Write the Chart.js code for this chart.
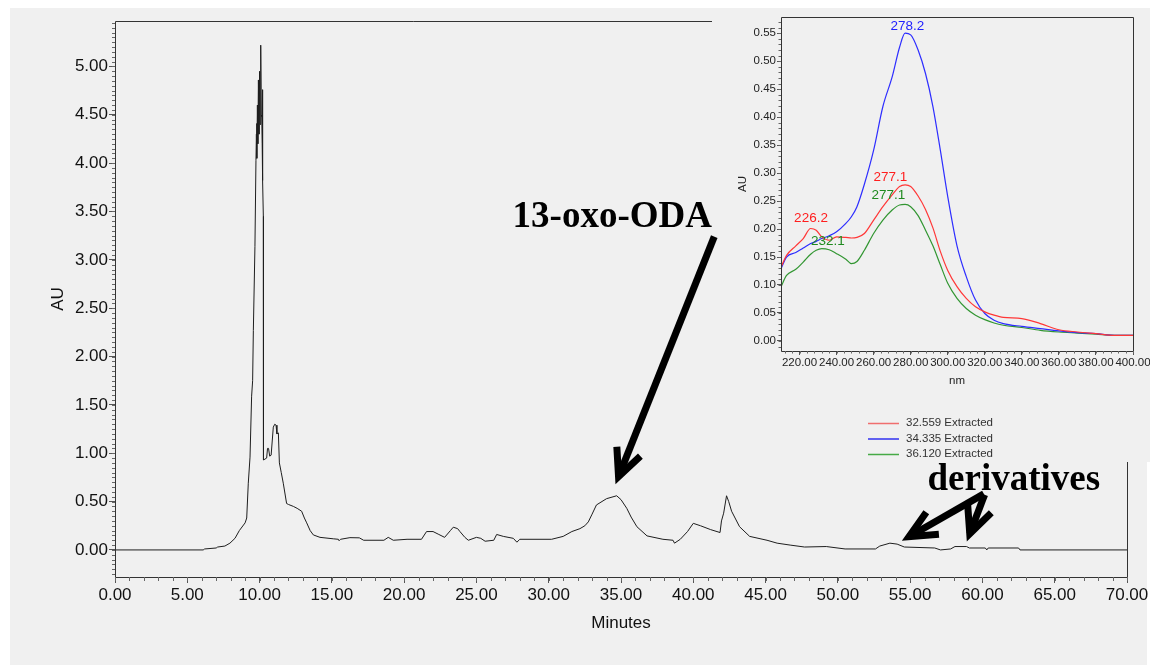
<!DOCTYPE html>
<html>
<head>
<meta charset="utf-8">
<script src="https://cdn.jsdelivr.net/npm/chart.js@4.4.1/dist/chart.umd.min.js"></script>
<style>
  html, body { margin: 0; padding: 0; background: #ffffff; }
  #wrap { position: relative; width: 1150px; height: 665px; overflow: hidden; }
  #main { position: absolute; left: 0; top: 0; }
  #inset { position: absolute; left: 712px; top: 8px; }
</style>
</head>
<body>
<div id="wrap">
  <canvas id="main" width="1150" height="665"></canvas>
  <canvas id="inset" width="438" height="454"></canvas>
</div>
<script>
// ---------------- DATA: main chromatogram ----------------
const minutes = [0, 6.1, 6.2, 7.0, 7.1, 7.6, 7.95, 8.3, 8.6, 9.0, 9.11, 9.22, 9.34, 9.45, 9.52, 9.57, 9.68, 9.75, 9.78, 9.8, 9.82, 9.85, 9.88, 9.92, 9.96, 10.0, 10.03, 10.08, 10.12, 10.15, 10.18, 10.2, 10.22, 10.26, 10.27, 10.49, 10.55, 10.62, 10.7, 10.8, 10.95, 11.05, 11.14, 11.2, 11.3, 11.37, 11.5, 11.64, 11.87, 12.0, 12.34, 12.6, 12.91, 13.1, 13.26, 13.5, 13.72, 14.18, 15.1, 15.45, 15.5, 15.6, 16.25, 16.9, 17.2, 18.6, 18.9, 19.25, 20.2, 21.2, 21.55, 22.0, 22.4, 22.8, 23.2, 23.4, 23.7, 23.86, 24.2, 24.44, 25.0, 25.3, 25.6, 26.2, 26.4, 26.86, 27.55, 27.8, 28.0, 30.2, 31.0, 31.6, 32.16, 32.5, 32.74, 33.0, 33.3, 34.0, 34.7, 35.0, 35.4, 35.7, 36.1, 36.8, 37.9, 38.6, 38.7, 39.1, 39.6, 40.0, 40.5, 41.2, 41.85, 41.95, 42.1, 42.3, 42.45, 42.65, 43.2, 43.9, 45.1, 45.8, 46.7, 47.7, 49.2, 50.5, 52.6, 52.9, 53.6, 54.1, 54.6, 56.7, 57.1, 57.8, 58.1, 58.9, 59.1, 60.2, 60.3, 60.4, 62.5, 62.6, 70];
const absorbance = [0, 0, 0.01, 0.02, 0.03, 0.04, 0.07, 0.12, 0.2, 0.28, 0.33, 0.69, 0.96, 1.59, 1.75, 2.27, 3.14, 4.03, 4.3, 4.41, 4.05, 4.6, 4.2, 4.86, 4.3, 4.95, 4.4, 5.22, 4.5, 4.48, 4.2, 4.76, 3.82, 3.45, 0.93, 0.95, 1.05, 1.05, 0.97, 0.98, 1.27, 1.30, 1.29, 1.20, 1.21, 0.9, 0.8, 0.69, 0.48, 0.47, 0.45, 0.43, 0.40, 0.33, 0.28, 0.2, 0.155, 0.13, 0.115, 0.11, 0.095, 0.11, 0.127, 0.125, 0.10, 0.10, 0.13, 0.10, 0.11, 0.11, 0.19, 0.19, 0.16, 0.13, 0.2, 0.235, 0.22, 0.19, 0.13, 0.10, 0.13, 0.12, 0.09, 0.10, 0.16, 0.14, 0.12, 0.08, 0.11, 0.11, 0.14, 0.19, 0.22, 0.25, 0.29, 0.37, 0.465, 0.53, 0.56, 0.52, 0.43, 0.34, 0.24, 0.145, 0.11, 0.10, 0.07, 0.11, 0.19, 0.275, 0.25, 0.21, 0.18, 0.30, 0.38, 0.56, 0.50, 0.40, 0.24, 0.14, 0.10, 0.07, 0.05, 0.03, 0.035, 0.01, 0.01, 0.04, 0.07, 0.06, 0.03, 0.02, 0.0, 0.01, 0.035, 0.035, 0.02, 0.02, 0.0, 0.02, 0.02, 0.0, 0];
const mainXTicks = [0, 5, 10, 15, 20, 25, 30, 35, 40, 45, 50, 55, 60, 65, 70];
const mainYTicks = [0, 0.5, 1, 1.5, 2, 2.5, 3, 3.5, 4, 4.5, 5];

// ---------------- DATA: inset UV spectra ----------------
const wavelengths = [210, 213, 218, 222, 226, 229, 232, 236, 240, 245, 248, 251, 255, 260, 265, 270, 274, 277, 280, 284, 288, 292, 296, 300, 305, 310, 315, 320, 325, 330, 340, 350, 360, 370, 380, 390, 400];
const spectrum32559 = [0.132, 0.153, 0.170, 0.183, 0.201, 0.198, 0.186, 0.180, 0.186, 0.185, 0.184, 0.185, 0.192, 0.216, 0.240, 0.261, 0.276, 0.279, 0.276, 0.259, 0.235, 0.202, 0.160, 0.126, 0.097, 0.076, 0.061, 0.052, 0.046, 0.042, 0.040, 0.031, 0.020, 0.016, 0.013, 0.010, 0.010];
const spectrum34335 = [0.129, 0.150, 0.158, 0.166, 0.174, 0.178, 0.183, 0.188, 0.195, 0.210, 0.222, 0.240, 0.280, 0.341, 0.419, 0.472, 0.525, 0.550, 0.547, 0.520, 0.478, 0.419, 0.341, 0.258, 0.170, 0.115, 0.073, 0.049, 0.037, 0.031, 0.026, 0.022, 0.018, 0.015, 0.013, 0.010, 0.010];
const spectrum36120 = [0.097, 0.117, 0.128, 0.141, 0.155, 0.162, 0.165, 0.163, 0.156, 0.146, 0.138, 0.142, 0.162, 0.192, 0.216, 0.234, 0.243, 0.244, 0.240, 0.224, 0.198, 0.170, 0.136, 0.103, 0.076, 0.058, 0.046, 0.038, 0.032, 0.028, 0.024, 0.019, 0.016, 0.014, 0.012, 0.010, 0.010];
const seriesLabels = ['32.559 Extracted', '34.335 Extracted', '36.120 Extracted'];
const peakNm = [278.2, 277.1, 277.1, 226.2, 232.1];
const peakAu = [0.552, 0.279, 0.244, 0.201, 0.165];
const peakSeries = [1, 0, 2, 0, 2];
const insetXTicks = [220, 240, 260, 280, 300, 320, 340, 360, 380, 400];
const insetYTicks = [0, 0.05, 0.10, 0.15, 0.20, 0.25, 0.30, 0.35, 0.40, 0.45, 0.50, 0.55];

// ---------------- styles ----------------
const FONT = 'Arial, "Liberation Sans", sans-serif';
const SERIF = '"Liberation Serif", "Times New Roman", serif';
const seriesColors = ['rgb(255,55,55)', 'rgb(45,45,255)', 'rgb(50,150,50)'];
const legendColors = ['rgb(240,110,110)', 'rgb(50,50,240)', 'rgb(70,170,70)'];
const peakTextColors = ['#ff1e1e', '#1e1eff', '#1f8a1f'];
const peakLabelShift = [[0, -2], [-15, -4], [-17, -5], [0, -6], [6, -4]];

const bgPlugin = {
  id: 'bg',
  beforeDraw(chart, args, o) {
    if (!o.fill) return;
    const c = chart.ctx;
    c.save();
    c.fillStyle = '#ffffff';
    c.fillRect(0, 0, chart.width, chart.height);
    c.fillStyle = '#f0f0f0';
    c.fillRect(o.x0, o.y0, chart.width - o.x0, chart.height - o.y0);
    if (o.notch) {
      c.fillStyle = '#ffffff';
      c.fillRect(o.notch[0], o.notch[1], chart.width - o.notch[0], chart.height - o.notch[1]);
    }
    c.restore();
  }
};

// plot frame; the main one is partly hidden behind the pasted spectrum panel
const framePlugin = {
  id: 'frame',
  afterDatasetsDraw(chart, args, o) {
    const a = chart.chartArea, c = chart.ctx;
    const L = Math.round(a.left) + 0.5, T = Math.round(a.top) + 0.5;
    const R = Math.round(a.right) + 0.5, B = Math.round(a.bottom) + 0.5;
    const topEnd = o.topEnd != null ? o.topEnd : R;
    const rightStart = o.rightStart != null ? o.rightStart : T;
    c.save();
    c.strokeStyle = o.color;
    c.lineWidth = 1;
    c.beginPath();
    c.moveTo(L, T); c.lineTo(topEnd, T);
    c.moveTo(R, rightStart); c.lineTo(R, B);
    c.moveTo(L, T); c.lineTo(L, B); c.lineTo(R, B);
    c.stroke();
    c.restore();
  }
};

const minorTicksPlugin = {
  id: 'minorTicks',
  afterDraw(chart, args, o) {
    const c = chart.ctx;
    c.save();
    c.strokeStyle = o.color;
    c.lineWidth = 1;
    ['x', 'y'].forEach(ax => {
      const s = chart.scales[ax], cfg = o[ax];
      const n0 = Math.ceil(s.min / cfg.step - 1e-6), n1 = Math.floor(s.max / cfg.step + 1e-6);
      for (let n = n0; n <= n1; n++) {
        const p = Math.round(s.getPixelForValue(n * cfg.step)) + 0.5;
        c.beginPath();
        if (ax === 'x') { c.moveTo(p, s.top); c.lineTo(p, s.top + cfg.len); }
        else { c.moveTo(s.right - cfg.len, p); c.lineTo(s.right, p); }
        c.stroke();
      }
    });
    c.restore();
  }
};

function drawArrow(c, x1, y1, x2, y2, w, head, ang) {
  const dx = x2 - x1, dy = y2 - y1, L = Math.hypot(dx, dy);
  const ux = dx / L, uy = dy / L;
  const back = (w / 2) / Math.sin(ang) * 0.85;
  const tx = x2 - ux * back, ty = y2 - uy * back;
  c.lineWidth = w;
  c.lineCap = 'butt';
  c.beginPath(); c.moveTo(x1, y1); c.lineTo(tx, ty); c.stroke();
  const a0 = Math.atan2(-uy, -ux);
  c.lineJoin = 'miter';
  c.miterLimit = 10;
  c.beginPath();
  c.moveTo(tx + head * Math.cos(a0 + ang), ty + head * Math.sin(a0 + ang));
  c.lineTo(tx, ty);
  c.lineTo(tx + head * Math.cos(a0 - ang), ty + head * Math.sin(a0 - ang));
  c.stroke();
}

const annotationPlugin = {
  id: 'notes',
  afterDatasetsDraw(chart, args, o) {
    const c = chart.ctx, xs = chart.scales.x, ys = chart.scales.y;
    const X = v => xs.getPixelForValue(v), Y = v => ys.getPixelForValue(v);
    c.save();
    c.fillStyle = '#000';
    c.strokeStyle = '#000';
    c.font = 'bold 37px ' + SERIF;
    c.textAlign = 'left';
    c.textBaseline = 'alphabetic';
    o.texts.forEach(t => c.fillText(t.text, X(t.at[0]), Y(t.at[1])));
    o.arrows.forEach(a => drawArrow(c, X(a.from[0]), Y(a.from[1]), X(a.to[0]), Y(a.to[1]), 7, 30, 25 * Math.PI / 180));
    c.restore();
  }
};

const peakLabelPlugin = {
  id: 'peakLabels',
  afterDatasetsDraw(chart) {
    const c = chart.ctx, xs = chart.scales.x, ys = chart.scales.y;
    c.save();
    c.font = '13.5px ' + FONT;
    c.textAlign = 'center';
    c.textBaseline = 'alphabetic';
    peakNm.forEach((nm, i) => {
      c.fillStyle = peakTextColors[peakSeries[i]];
      c.fillText(nm.toFixed(1), xs.getPixelForValue(nm) + peakLabelShift[i][0], ys.getPixelForValue(peakAu[i]) + peakLabelShift[i][1]);
    });
    c.restore();
  }
};

const legendPlugin = {
  id: 'sideLegend',
  afterDraw(chart, args, o) {
    const c = chart.ctx;
    c.save();
    c.font = '11.5px ' + FONT;
    c.textAlign = 'left';
    c.textBaseline = 'middle';
    chart.data.datasets.forEach((d, i) => {
      const y = o.y0 + i * o.dy;
      c.strokeStyle = legendColors[i];
      c.lineWidth = 1.5;
      c.beginPath(); c.moveTo(o.x0, y + 0.5); c.lineTo(o.x1, y + 0.5); c.stroke();
      c.fillStyle = '#333';
      c.fillText(d.label, o.xt, y);
    });
    c.restore();
  }
};

// ---------------- main chromatogram ----------------
new Chart(document.getElementById('main'), {
  type: 'line',
  data: {
    datasets: [{
      data: minutes.map((m, i) => ({ x: m, y: absorbance[i] })),
      borderColor: '#1e1e1e',
      borderWidth: 1,
      pointRadius: 0,
      tension: 0,
      fill: false
    }]
  },
  options: {
    responsive: false,
    animation: false,
    events: [],
    layout: { padding: { left: 0, top: 21, right: 23, bottom: 0 } },
    plugins: {
      legend: { display: false },
      tooltip: { enabled: false },
      bg: { fill: true, x0: 10, y0: 8, notch: [1147, 462] },
      frame: { color: '#333', topEnd: 712, rightStart: 462 },
      minorTicks: { color: '#666', x: { step: 1, len: 4 }, y: { step: 0.05, len: 3 } },
      notes: {
        texts: [
          { text: '13-oxo-ODA', at: [27.5, 3.34] },
          { text: 'derivatives', at: [56.2, 0.62] }
        ],
        arrows: [
          { from: [41.45, 3.24], to: [34.65, 0.69] },
          { from: [60.1, 0.58], to: [54.5, 0.10] },
          { from: [60.15, 0.57], to: [58.95, 0.10] }
        ]
      }
    },
    scales: {
      x: {
        type: 'linear', min: 0, max: 70,
        afterBuildTicks: s => { s.ticks = mainXTicks.map(v => ({ value: v })); },
        afterFit: s => { s.height = 88; s.paddingLeft = 0; s.paddingRight = 0; },
        ticks: { callback: v => Number(v).toFixed(2), color: '#111', font: { family: FONT, size: 17 }, padding: 2, maxRotation: 0, autoSkip: false },
        grid: { display: true, drawOnChartArea: false, drawTicks: true, tickLength: 6, color: '#555' },
        border: { display: false },
        title: { display: true, text: 'Minutes', color: '#111', font: { family: FONT, size: 17 }, padding: { top: 0, bottom: 31 } }
      },
      y: {
        type: 'linear', min: -0.28, max: 5.47,
        afterBuildTicks: s => { s.ticks = mainYTicks.map(v => ({ value: v })); },
        afterFit: s => { s.width = 115; s.paddingTop = 0; s.paddingBottom = 0; },
        ticks: { callback: v => Number(v).toFixed(2), color: '#111', font: { family: FONT, size: 17 }, padding: 1, autoSkip: false },
        grid: { display: true, drawOnChartArea: false, drawTicks: true, tickLength: 6, color: '#555' },
        border: { display: false },
        title: { display: true, text: 'AU', color: '#111', font: { family: FONT, size: 17 }, padding: { top: 48, bottom: 0 } }
      }
    }
  },
  plugins: [bgPlugin, framePlugin, minorTicksPlugin, annotationPlugin]
});

// ---------------- inset spectra (transparent panel over the main chart) ----------------
new Chart(document.getElementById('inset'), {
  type: 'line',
  data: {
    datasets: [spectrum32559, spectrum34335, spectrum36120].map((arr, i) => ({
      label: seriesLabels[i],
      data: wavelengths.map((w, j) => ({ x: w, y: arr[j] })),
      borderColor: seriesColors[i],
      borderWidth: 1.2,
      pointRadius: 0,
      cubicInterpolationMode: 'monotone',
      fill: false
    }))
  },
  options: {
    responsive: false,
    animation: false,
    events: [],
    layout: { padding: { left: 0, top: 9, right: 17, bottom: 0 } },
    plugins: {
      legend: { display: false },
      tooltip: { enabled: false },
      bg: { fill: false },
      frame: { color: '#333' },
      minorTicks: { color: '#666', x: { step: 4, len: 2.5 }, y: { step: 0.01, len: 2.5 } },
      sideLegend: { x0: 156, x1: 187, xt: 194, y0: 415, dy: 15.5 }
    },
    scales: {
      x: {
        type: 'linear', min: 210, max: 400,
        afterBuildTicks: s => { s.ticks = insetXTicks.map(v => ({ value: v })); },
        afterFit: s => { s.height = 111; s.paddingLeft = 0; s.paddingRight = 0; },
        ticks: { callback: v => Number(v).toFixed(2), color: '#222', font: { family: FONT, size: 11.5 }, padding: 1, maxRotation: 0, autoSkip: false },
        grid: { display: true, drawOnChartArea: false, drawTicks: true, tickLength: 4, color: '#555' },
        border: { display: false },
        title: { display: true, text: 'nm', color: '#222', font: { family: FONT, size: 11.5 }, padding: { top: 0, bottom: 74 } }
      },
      y: {
        type: 'linear', min: -0.018, max: 0.579,
        afterBuildTicks: s => { s.ticks = insetYTicks.map(v => ({ value: v })); },
        afterFit: s => { s.width = 69; s.paddingTop = 0; s.paddingBottom = 0; },
        ticks: { callback: v => Number(v).toFixed(2), color: '#222', font: { family: FONT, size: 11.5 }, padding: 1, autoSkip: false },
        grid: { display: true, drawOnChartArea: false, drawTicks: true, tickLength: 4, color: '#555' },
        border: { display: false },
        title: { display: true, text: 'AU', color: '#222', font: { family: FONT, size: 11.5 }, padding: { top: 24, bottom: 0 } }
      }
    }
  },
  plugins: [bgPlugin, framePlugin, minorTicksPlugin, peakLabelPlugin, legendPlugin]
});
</script>
</body>
</html>
